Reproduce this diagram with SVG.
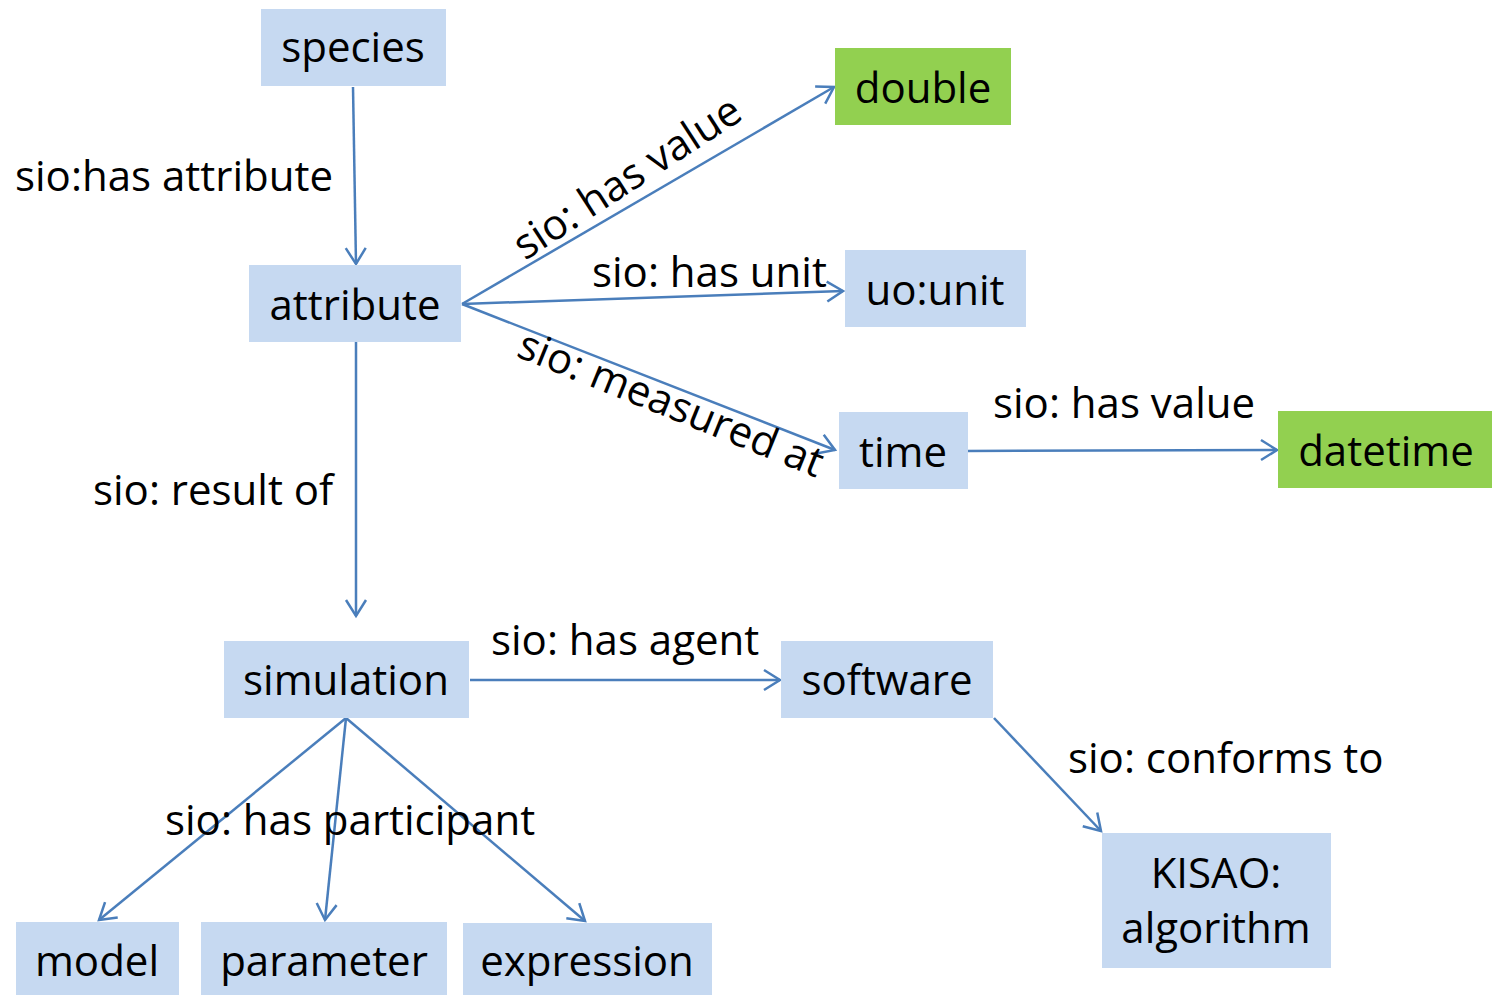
<svg xmlns="http://www.w3.org/2000/svg" width="1492" height="995" viewBox="0 0 1492 995">
  <style>
    .box { fill: #c6d9f1; }
    .lit { fill: #92d050; }
    text { font-family: "Open Sans", "Liberation Sans", sans-serif; font-size: 42px; fill: #000; }
    .nl { text-anchor: middle; }
    .edge { stroke: #4a7ebb; stroke-width: 2.5; fill: none; marker-end: url(#arrow); }
  </style>
  <defs>
    <marker id="arrow" markerUnits="userSpaceOnUse" markerWidth="24" markerHeight="24" viewBox="-20 -12 24 24" refX="0" refY="0" orient="auto">
      <path d="M -16 -10 L 0 0 L -16 10" fill="none" stroke="#4a7ebb" stroke-width="2.5" stroke-linejoin="miter"/>
    </marker>
  </defs>

  <rect width="1492" height="995" fill="#ffffff"/>

  <!-- connectors and their labels -->
  <g id="connectors">
    <path class="edge" d="M353 87 L356 264"/>
    <path class="edge" d="M356 342 L356 616"/>
    <path class="edge" d="M462 304 L834 87"/>
    <path class="edge" d="M462 304 L843 291"/>
    <path class="edge" d="M462 304 L835 450"/>
    <path class="edge" d="M965 451 L1277 450"/>
    <path class="edge" d="M470 680 L780 680"/>
    <path class="edge" d="M994 718 L1101 831"/>
    <path class="edge" d="M346 718 L99 920"/>
    <path class="edge" d="M346 718 L325 920"/>
    <path class="edge" d="M346 718 L585 921"/>

    <text x="15" y="191">sio:has attribute</text>
    <text x="93" y="505">sio: result of</text>
    <text transform="translate(525,261) rotate(-33)">sio: has value</text>
    <text x="592" y="287">sio: has unit</text>
    <text transform="translate(515,356) rotate(22)">sio: measured at</text>
    <text x="993" y="418">sio: has value</text>
    <text x="491" y="655">sio: has agent</text>
    <text x="1068" y="773">sio: conforms to</text>
    <text x="165" y="835">sio: has participant</text>
  </g>

  <!-- nodes -->
  <g id="species"><rect class="box" x="261" y="9" width="185" height="77"/><text class="nl" x="353" y="62">species</text></g>
  <g id="attribute"><rect class="box" x="249" y="265" width="212" height="77"/><text class="nl" x="355" y="320">attribute</text></g>
  <g id="double"><rect class="lit" x="835" y="48" width="176" height="77"/><text class="nl" x="923" y="103">double</text></g>
  <g id="uo-unit"><rect class="box" x="845" y="250" width="181" height="77"/><text class="nl" x="935" y="305">uo:unit</text></g>
  <g id="time"><rect class="box" x="839" y="412" width="129" height="77"/><text class="nl" x="903" y="467">time</text></g>
  <g id="datetime"><rect class="lit" x="1278" y="411" width="214" height="77"/><text class="nl" x="1386" y="466">datetime</text></g>
  <g id="simulation"><rect class="box" x="224" y="641" width="245" height="77"/><text class="nl" x="346" y="695">simulation</text></g>
  <g id="software"><rect class="box" x="781" y="641" width="212" height="77"/><text class="nl" x="887" y="695">software</text></g>
  <g id="kisao-algorithm"><rect class="box" x="1102" y="833" width="229" height="135"/><text class="nl" x="1216" y="888">KISAO:</text><text class="nl" x="1216" y="943">algorithm</text></g>
  <g id="model"><rect class="box" x="16" y="922" width="163" height="73"/><text class="nl" x="97" y="976">model</text></g>
  <g id="parameter"><rect class="box" x="201" y="922" width="246" height="73"/><text class="nl" x="324" y="976">parameter</text></g>
  <g id="expression"><rect class="box" x="463" y="923" width="249" height="72"/><text class="nl" x="587" y="976">expression</text></g>
</svg>
